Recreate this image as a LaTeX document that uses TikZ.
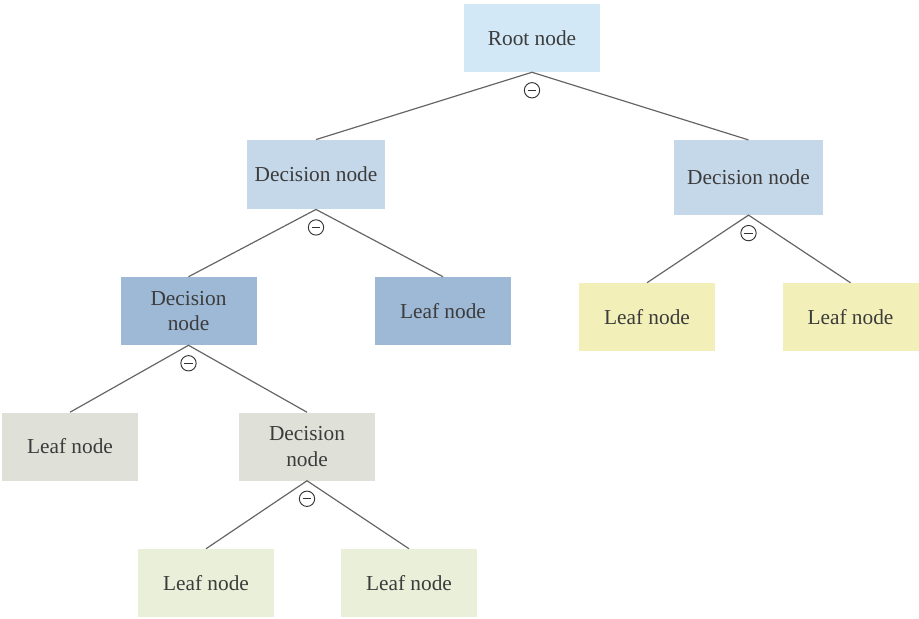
\documentclass[tikz,border=0pt]{standalone}
\usepackage{fontspec}
\setmainfont{Liberation Serif}
\usetikzlibrary{positioning}
\definecolor{rootblue}{HTML}{D2E8F6}
\definecolor{decblue}{HTML}{C5D8EA}
\definecolor{darkblue}{HTML}{9DB9D6}
\definecolor{leafyellow}{HTML}{F2F0B8}
\definecolor{leafgrey}{HTML}{DFE1D8}
\definecolor{leafgreen}{HTML}{E9EFD9}
\definecolor{textgrey}{HTML}{3C3C3C}
\tikzset{
    tree node/.style={
        minimum width=102pt,minimum height=51pt,
        inner sep=2pt,align=center,
        text=textgrey,
        font=\fontsize{16}{19}\selectfont
    },
    branch/.style={draw=black!60,line width=0.9pt},
    minus mark/.style={
        circle,draw=black!80,fill=white,line width=0.7pt,
        inner sep=0pt,minimum size=11.5pt,
        path picture={\draw[line width=0.7pt] ([xshift=-3.2pt]path picture bounding box.center) -- ++(6.4pt,0);}
    },
}
\begin{document}
\begin{tikzpicture}[x=0.75pt,y=-0.75pt]
    \useasboundingbox (0,0) rectangle (919,618);
    \node[tree node,fill=rootblue] (root) at (532,38) {Root node};
    \node[tree node,fill=decblue,minimum width=103.5pt,minimum height=52pt] (dec1) at (316,174.5) {Decision node};
    \node[tree node,fill=decblue,minimum width=112pt,minimum height=56pt] (dec2) at (748.5,177.5) {Decision node};
    \node[tree node,fill=darkblue] (dec3) at (188.5,311) {Decision\\node};
    \node[tree node,fill=darkblue] (leafA) at (443,311) {Leaf node};
    \node[tree node,fill=leafyellow] (leafB) at (647,317) {Leaf node};
    \node[tree node,fill=leafyellow] (leafC) at (850.5,317) {Leaf node};
    \node[tree node,fill=leafgrey] (leafD) at (70,446.5) {Leaf node};
    \node[tree node,fill=leafgrey] (dec4) at (307,446.5) {Decision\\node};
    \node[tree node,fill=leafgreen] (leafE) at (206,583) {Leaf node};
    \node[tree node,fill=leafgreen] (leafF) at (409,583) {Leaf node};

    % branches and collapse marks
    \foreach \p/\a/\b in {root/dec1/dec2,dec1/dec3/leafA,dec2/leafB/leafC,dec3/leafD/dec4,dec4/leafE/leafF}{
        \draw[branch] (\a.north) -- (\p.south) -- (\b.north);
        \node[minus mark] (\p-mark) at ([yshift=-13.5pt]\p.south) {};
    }
\end{tikzpicture}
\end{document}
